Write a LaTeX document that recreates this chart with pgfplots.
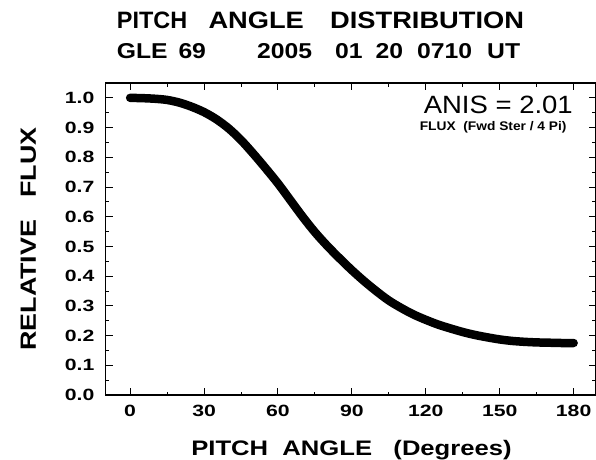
\documentclass[border=0pt]{standalone}
\usepackage{fontspec}
\usepackage{graphicx}
\setmainfont{Liberation Sans}
\newfontfamily\titlefont[FakeStretch=1.15]{Liberation Sans Bold}
\newfontfamily\labelfont[FakeStretch=1.22]{Liberation Sans Bold}
\newfontfamily\tickfont[FakeStretch=1.3]{Liberation Sans Bold}
\newfontfamily\smallfont[FakeStretch=1.1]{Liberation Sans Bold}
\newfontfamily\anisfont[FakeStretch=1.1]{Liberation Sans}
\usepackage{pgfplots}
\usepackage{pgfplotstable}
\pgfplotsset{compat=1.18}

% Relative flux versus pitch angle, GLE 69
\pgfplotstableread{
deg flux
0   1.000
5   0.999
10  0.997
15  0.993
20  0.984
25  0.970
30  0.952
35  0.928
40  0.897
45  0.858
50  0.812
55  0.763
60  0.712
65  0.656
70  0.600
75  0.548
80  0.502
85  0.460
90  0.420
95  0.383
100 0.349
105 0.318
110 0.293
115 0.271
120 0.253
125 0.237
130 0.224
135 0.212
140 0.202
145 0.194
150 0.187
155 0.182
160 0.179
165 0.177
170 0.176
175 0.175
180 0.175
}\pitchdata

\begin{document}
\begin{tikzpicture}[x=1pt,y=1pt]
\begin{axis}[
  scale only axis, width=490.3pt, height=312pt,
  xmin=-10, xmax=189, ymin=0, ymax=1.05,
  xtick={0,30,60,90,120,150,180},
  minor xtick={15,45,75,105,135,165},
  ytick={0,0.1,0.2,0.3,0.4,0.5,0.6,0.7,0.8,0.9,1.0},
  minor ytick={0.05,0.15,0.25,0.35,0.45,0.55,0.65,0.75,0.85,0.95},
  xtick pos=both, ytick pos=both,
  tick align=inside,
  major tick length=7pt, minor tick length=3.5pt,
  every tick/.style={black, line width=1pt},
  axis line style={black, line width=1.6pt},
  /pgf/number format/assume math mode=true,
  ticklabel style={font=\tickfont\fontsize{16.3}{18}\selectfont, inner sep=0pt},
  yticklabel style={/pgf/number format/fixed, /pgf/number format/fixed zerofill,
    /pgf/number format/precision=1, anchor=east, xshift=-11pt},
  xticklabel style={anchor=north, yshift=-10pt},
]
\addplot[black, line width=8.5pt, line cap=round, line join=round, smooth]
  table[x=deg, y=flux] {\pitchdata};
\end{axis}

% titles
\begin{scope}[every node/.style={inner sep=0pt, anchor=base west}]
  \node[font=\titlefont\fontsize{23.7}{26}\selectfont] at (11.2,366.7) {\scalebox{0.86}[1]{PITCH}};
  \node[font=\titlefont\fontsize{23.7}{26}\selectfont] at (102.8,366.7) {ANGLE};
  \node[font=\titlefont\fontsize{23.7}{26}\selectfont] at (224.5,366.7) {DISTRIBUTION};
  \node[font=\titlefont\fontsize{21.5}{24}\selectfont] at (11.2,336.5) {GLE};
  \node[font=\titlefont\fontsize{21.5}{24}\selectfont] at (72.8,336.5) {69};
  \node[font=\titlefont\fontsize{21.5}{24}\selectfont] at (151.5,336.5) {2005};
  \node[font=\titlefont\fontsize{21.5}{24}\selectfont] at (229.5,336.5) {01};
  \node[font=\titlefont\fontsize{21.5}{24}\selectfont] at (270,336.5) {20};
  \node[font=\titlefont\fontsize{21.5}{24}\selectfont] at (311.5,336.5) {0710};
  \node[font=\titlefont\fontsize{21.5}{24}\selectfont] at (381.5,336.5) {UT};
\end{scope}

% anisotropy annotation
\node[inner sep=0pt, anchor=base east, font=\anisfont\fontsize{25}{28}\selectfont]
  at (467.5,281.7) {ANIS = 2.01};
\node[inner sep=0pt, anchor=base east, font=\smallfont\fontsize{12.5}{14}\selectfont]
  at (461.2,265) {FLUX~~(Fwd Ster / 4 Pi)};

% axis titles
\node[inner sep=0pt, anchor=base, rotate=90, font=\labelfont\fontsize{22}{25}\selectfont]
  at (-69.5,156) {RELATIVE~~~FLUX};
\node[inner sep=0pt, anchor=base, font=\labelfont\fontsize{21}{24}\selectfont]
  at (246,-60) {PITCH~~ANGLE~~~(Degrees)};

\pgfresetboundingbox
\path (-105.5,-64) rectangle (490.5,395);
\end{tikzpicture}
\end{document}
